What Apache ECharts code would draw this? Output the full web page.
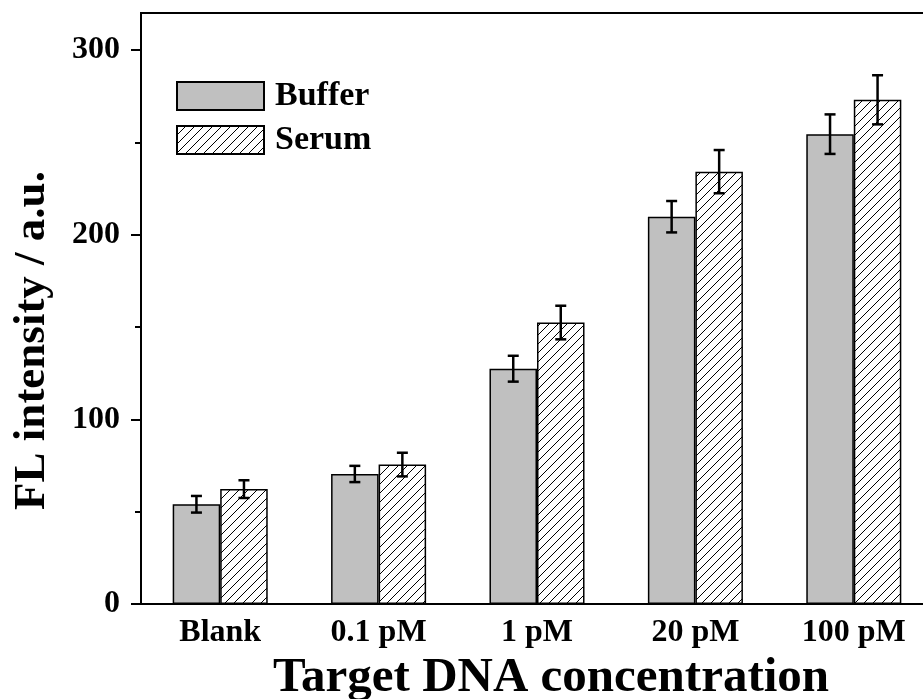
<!DOCTYPE html>
<html>
<head>
<meta charset="utf-8">
<script src="https://cdn.jsdelivr.net/npm/echarts@6/dist/echarts.min.js"></script>
<style>html,body{margin:0;padding:0;background:#fff;}#c{width:923px;height:699px;}</style>
</head>
<body>
<div id="c"></div>
<script>
const categories = ['Blank', '0.1 pM', '1 pM', '20 pM', '100 pM'];
const bufferValues = [54, 70.4, 127.4, 209.7, 254.4];
const bufferErrors = [4.5, 4.4, 7, 8.5, 10.7];
const serumValues = [62.2, 75.5, 152.4, 234.1, 273];
const serumErrors = [4.8, 6.4, 9.1, 11.7, 13.3];
const yMajorTicks = [0, 100, 200, 300];
const yMinorTicks = [50, 150, 250];

const FONT = 'Liberation Serif';

// hatch pattern
const T = 9;
const pc = document.createElement('canvas');
pc.width = T; pc.height = T;
const g = pc.getContext('2d');
g.fillStyle = '#fff'; g.fillRect(0, 0, T, T);
g.strokeStyle = '#000'; g.lineWidth = 1;
g.beginPath();
g.moveTo(0, T); g.lineTo(T, 0);
g.moveTo(-1, 1); g.lineTo(1, -1);
g.moveTo(T - 1, T + 1); g.lineTo(T + 1, T - 1);
g.stroke();

function errSeries(name, vals, errs, off) {
  return {
    name: name, type: 'custom', z: 10,
    data: vals.map((v, i) => [i, v, errs[i]]),
    encode: { x: 0, y: 1 },
    renderItem: function (params, api) {
      const i = api.value(0), v = api.value(1), e = api.value(2);
      const bw = api.size([1, 0])[0];
      const top = api.coord([i, v + e]);
      const bot = api.coord([i, v - e]);
      const x = top[0] + off * bw;
      const cap = 5.5;
      const st = { stroke: '#000', lineWidth: 2.5 };
      return {
        type: 'group',
        children: [
          { type: 'line', shape: { x1: x, y1: top[1], x2: x, y2: bot[1] }, style: st },
          { type: 'line', shape: { x1: x - cap, y1: top[1], x2: x + cap, y2: top[1] }, style: st },
          { type: 'line', shape: { x1: x - cap, y1: bot[1], x2: x + cap, y2: bot[1] }, style: st }
        ]
      };
    }
  };
}

const chart = echarts.init(document.getElementById('c'), null, { renderer: 'canvas' });
chart.setOption({
  animation: false,
  backgroundColor: '#fff',
  textStyle: { fontFamily: FONT, fontWeight: 'bold', color: '#000' },
  grid: { left: 141, top: 13, width: 792, height: 591, show: true, borderColor: '#000', borderWidth: 2, backgroundColor: 'transparent', containLabel: false, outerBoundsMode: 'none' },
  legend: {
    data: ['Buffer', 'Serum'],
    orient: 'vertical', left: 171, top: 74,
    itemWidth: 87, itemHeight: 28, itemGap: 10,
    textStyle: { fontFamily: FONT, fontWeight: 'bold', fontSize: 34, color: '#000', padding: [0, 0, 0, 6] },
    icon: 'rect'
  },
  xAxis: {
    type: 'category', data: categories,
    axisLine: { lineStyle: { color: '#000', width: 2 } },
    axisTick: { inside: true, length: 4, interval: 0, lineStyle: { color: '#000', width: 1 } },
    axisLabel: { fontFamily: FONT, fontWeight: 'bold', fontSize: 32, color: '#000', margin: 13, interval: 0 },
    name: 'Target DNA concentration', nameLocation: 'middle', nameGap: 44,
    nameTextStyle: { fontFamily: FONT, fontWeight: 'bold', fontSize: 49, color: '#000', padding: [0, 0, 0, 28] }
  },
  yAxis: [{
    type: 'value', min: 0, max: 320,
    axisLine: { show: true, lineStyle: { color: '#000', width: 2 } },
    axisTick: { show: true, length: 10, customValues: yMajorTicks, lineStyle: { color: '#000', width: 2 } },
    axisLabel: { fontFamily: FONT, fontWeight: 'bold', fontSize: 32, color: '#000', margin: 21, customValues: yMajorTicks },
    splitLine: { show: false },
    name: 'FL intensity / a.u.', nameLocation: 'middle', nameGap: 86, nameRotate: 90,
    nameTextStyle: { fontFamily: FONT, fontWeight: 'bold', fontSize: 45, color: '#000', padding: [0, 64, 0, 0] }
  }, {
    type: 'value', min: 0, max: 320, position: 'left', offset: 0,
    axisLine: { show: false },
    axisTick: { show: true, length: 6, customValues: yMinorTicks, lineStyle: { color: '#000', width: 2 } },
    axisLabel: { show: false },
    splitLine: { show: false }
  }],
  series: [
    {
      name: 'Buffer', type: 'bar', data: bufferValues,
      barGap: '0%', barCategoryGap: '40%',
      itemStyle: { color: '#c0c0c0', borderColor: '#000', borderWidth: 1.5 }
    },
    {
      name: 'Serum', type: 'bar', data: serumValues,
      barGap: '0%', barCategoryGap: '40%',
      itemStyle: { color: { image: pc, repeat: 'repeat' }, borderColor: '#000', borderWidth: 1.5 }
    },
    errSeries('BufferErr', bufferValues, bufferErrors, -0.15),
    errSeries('SerumErr', serumValues, serumErrors, 0.15)
  ]
});
</script>
</body>
</html>
